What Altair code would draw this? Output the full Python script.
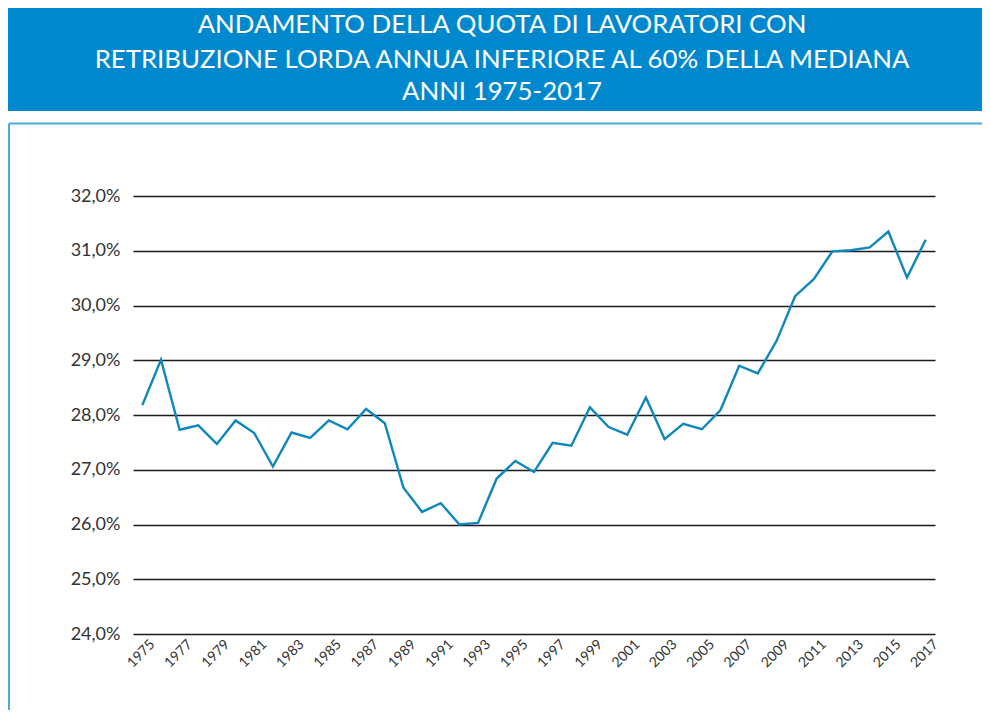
import altair as alt
import pandas as pd

# ---- data ----
years = list(range(1975, 2018))
share = [
    28.18, 29.01, 27.73, 27.81, 27.47, 27.90, 27.67, 27.06, 27.68, 27.58,
    27.90, 27.74, 28.11, 27.85, 26.67, 26.23, 26.39, 26.00, 26.03, 26.84,
    27.16, 26.96, 27.49, 27.44, 28.14, 27.78, 27.64, 28.32, 27.56, 27.84,
    27.74, 28.09, 28.90, 28.76, 29.35, 30.17, 30.48, 30.99, 31.01, 31.06,
    31.35, 30.51, 31.20,
]
x_tick_years = list(range(1975, 2018, 2))
y_ticks = [24, 25, 26, 27, 28, 29, 30, 31, 32]
title_lines = [
    "ANDAMENTO DELLA QUOTA DI LAVORATORI CON",
    "RETRIBUZIONE LORDA ANNUA INFERIORE AL 60% DELLA MEDIANA",
    "ANNI 1975-2017",
]

df = pd.DataFrame({"anno": years, "quota": share})

FONT = "Lato"
W, H = 802, 438
one = pd.DataFrame({"k": [0]})

line = alt.Chart(df).mark_line(color="#0E87BD", strokeWidth=2.4).encode(
    x=alt.X(
        "anno:O",
        axis=alt.Axis(
            values=x_tick_years,
            labelAngle=-45,
            title=None,
            domain=False,
            ticks=False,
            labelFontSize=14,
            labelFont=FONT,
            labelColor="#333333",
            labelPadding=3,
            labelOffset=5,
        ),
    ),
    y=alt.Y(
        "quota:Q",
        scale=alt.Scale(domain=[24, 32], nice=False, zero=False),
        axis=alt.Axis(
            values=y_ticks,
            title=None,
            domain=False,
            ticks=False,
            grid=True,
            gridColor="#1a1a1a",
            gridWidth=1.3,
            labelFontSize=18,
            labelFont=FONT,
            labelColor="#333333",
            labelPadding=13,
            labelExpr="replace(format(datum.value, '.1f'), '.', ',') + '%'",
        ),
    ),
)

# header band
band = alt.Chart(one).mark_rect(color="#0088CE").encode(
    x=alt.value(-127), x2=alt.value(857),
    y=alt.value(-192), y2=alt.value(-85),
)

# light-blue frame around the plot
frame_top = alt.Chart(one).mark_rule(color="#4AAAE0", strokeWidth=2).encode(
    x=alt.value(-124), x2=alt.value(857), y=alt.value(-72.5)
)
frame_left = alt.Chart(one).mark_rule(color="#4AAAE0", strokeWidth=2).encode(
    x=alt.value(-124), y=alt.value(-72.5), y2=alt.value(520)
)

title_layers = []
baselines = [-163, -128, -96]
for txt, yb in zip(title_lines, baselines):
    title_layers.append(
        alt.Chart(one).mark_text(
            font=FONT, fontSize=25.8, color="white", align="center",
            baseline="alphabetic",
        ).encode(text=alt.value(txt), x=alt.value(369), y=alt.value(yb))
    )

chart = alt.layer(band, frame_top, frame_left, *title_layers, line).properties(
    width=W,
    height=H,
    padding={"left": 125, "top": 188, "right": 47, "bottom": 76},
    autosize=alt.AutoSizeParams(type="none"),
).configure_view(stroke=None)

chart.save("out.html", embed_options={"renderer": "svg", "actions": False})
